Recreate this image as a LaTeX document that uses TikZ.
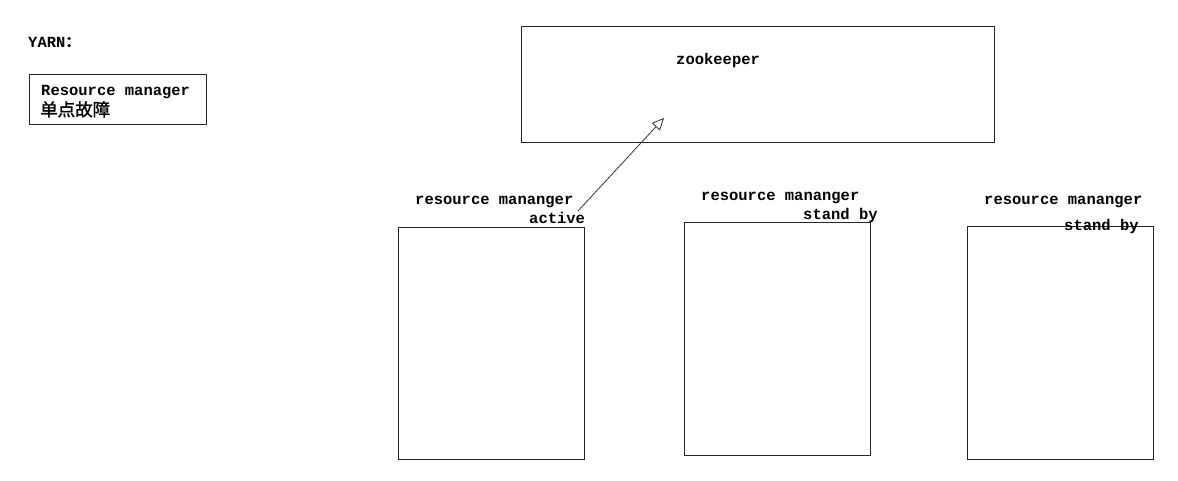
\documentclass[tikz,border=0pt]{standalone}
\usepackage{fontspec}
\setmonofont{Liberation Mono}
\newfontfamily\cjk[FakeBold=1.5]{Noto Sans CJK SC}
\usetikzlibrary{arrows.meta}
\begin{document}
\begin{tikzpicture}[x=1pt,y=-1pt,
  lbl/.style={inner sep=0pt,anchor=base west,font=\fontsize{15.5pt}{18pt}\ttfamily\bfseries},
  box/.style={draw=black!85,line width=0.9pt},
  conn/.style={draw=black!80,line width=0.8pt,-{Triangle[open,length=12pt,width=11pt]}}]
\useasboundingbox (0,0) rectangle (1178,480);
% left note
\node[lbl] (yarn) at (28,47) {YARN{\cjk\fontsize{15pt}{18pt}\selectfont ：}};
\draw[box] (29,74) rectangle (206,124);
\node[lbl] (rmtext) at (41,95) {Resource manager};
\node[inner sep=0pt,anchor=base west,font=\cjk\fontsize{17.5pt}{20pt}\selectfont] (spof) at (40,116) {单点故障};
% zookeeper
\node[box,minimum width=473pt,minimum height=116pt,anchor=north west,inner sep=0pt] (zk) at (521,26) {};
\node[lbl] (zktext) at (676,64) {zookeeper};
% resource managers
\node[box,minimum width=186pt,minimum height=232pt,anchor=north west,inner sep=0pt] (rm1) at (398,227) {};
\node[box,minimum width=186pt,minimum height=233pt,anchor=north west,inner sep=0pt] (rm2) at (684,222) {};
\node[box,minimum width=186pt,minimum height=233pt,anchor=north west,inner sep=0pt] (rm3) at (967,226) {};
\node[lbl] (l1a) at (415,204) {resource mananger};
\node[lbl] (l1b) at (529,223) {active};
\node[lbl] (l2a) at (701,200) {resource mananger};
\node[lbl] (l2b) at (803,219) {stand by};
\node[lbl] (l3a) at (984,204) {resource mananger};
\node[lbl] (l3b) at (1064,230) {stand by};
% connector
\coordinate (from) at (578,211);
\coordinate (to) at (664,118);
\draw[conn] (from) -- (to);
\end{tikzpicture}
\end{document}
